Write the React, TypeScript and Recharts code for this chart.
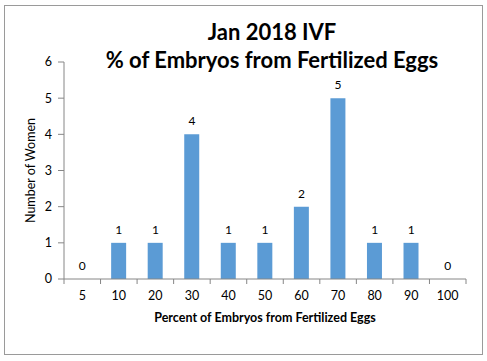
import { ComposedChart, Bar, Line, XAxis, YAxis, LabelList, Label } from "recharts";

const categories = ["5", "10", "20", "30", "40", "50", "60", "70", "80", "90", "100"];
const women = [0, 1, 1, 4, 1, 1, 2, 5, 1, 1, 0];
const yTicks = [0, 1, 2, 3, 4, 5, 6];

const data = categories.map((c, i) => ({ name: c, women: women[i] }));

const FONT = "Lato, 'Open Sans', sans-serif";
const AXIS = "#868686";
const PLOT_LEFT = 64;
const PLOT_RIGHT = 466;
const BAND = (PLOT_RIGHT - PLOT_LEFT) / categories.length;

// Excel-style category ticks: marks sit between categories, labels in the middle
function CategoryTick(props: any) {
  const { x, y, payload, index } = props;
  const last = index === categories.length - 1;
  return (
    <g>
      <line x1={x - BAND / 2} y1={y - 8} x2={x - BAND / 2} y2={y - 3} stroke={AXIS} />
      {last && <line x1={x + BAND / 2} y1={y - 8} x2={x + BAND / 2} y2={y - 3} stroke={AXIS} />}
      <text x={x} y={y + 13} textAnchor="middle" fontSize={12.5} fill="#000" fontFamily={FONT}>
        {payload.value}
      </text>
    </g>
  );
}

export default function App() {
  return (
    <div style={{ position: "absolute", left: 0, top: 0, width: 487, height: 361, background: "#fff" }}>
      <div
        style={{
          position: "absolute",
          left: 4,
          top: 5,
          width: 477,
          height: 348,
          border: "1px solid #9a9a9a",
        }}
      />
      <div
        style={{
          position: "absolute",
          left: 70,
          width: 404,
          top: 18,
          textAlign: "center",
          fontFamily: FONT,
          fontWeight: 700,
          fontSize: 22,
          lineHeight: "28px",
          color: "#000",
        }}
      >
        Jan 2018 IVF
        <br />% of Embryos from Fertilized Eggs
      </div>
      <ComposedChart
        width={487}
        height={361}
        data={data}
        margin={{ top: 62, right: 487 - PLOT_RIGHT, bottom: 36, left: 0 }}
        barCategoryGap="29%"
        style={{ position: "absolute", left: 0, top: 0 }}
      >
        <XAxis
          dataKey="name"
          stroke={AXIS}
          tickLine={false}
          tick={<CategoryTick />}
          height={46}
          interval={0}
        >
          <Label
            value="Percent of Embryos from Fertilized Eggs"
            position="insideBottom"
            offset={3}
            style={{ fontFamily: FONT, fontSize: 12.5, fontWeight: 700, fill: "#000" }}
          />
        </XAxis>
        <YAxis
          width={PLOT_LEFT}
          domain={[0, 6]}
          ticks={yTicks}
          stroke={AXIS}
          tickSize={6}
          tick={{ fontFamily: FONT, fontSize: 12.5, fill: "#000" }}
          tickMargin={6}
        >
          <Label
            value="Number of Women"
            angle={-90}
            position="insideLeft"
            offset={31}
            style={{ fontFamily: FONT, fontSize: 12.5, fill: "#000", textAnchor: "middle" }}
          />
        </YAxis>
        <Bar dataKey="women" fill="#5B9BD5" isAnimationActive={false} />
        <Line
          dataKey="women"
          stroke="none"
          dot={false}
          activeDot={false}
          isAnimationActive={false}
        >
          <LabelList
            dataKey="women"
            position="top"
            offset={9}
            style={{ fontFamily: FONT, fontSize: 12, fill: "#000" }}
          />
        </Line>
      </ComposedChart>
    </div>
  );
}
